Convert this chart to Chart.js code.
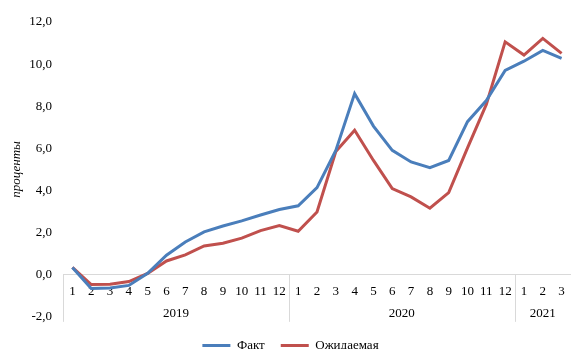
<!DOCTYPE html>
<html>
<head>
<meta charset="utf-8">
<script src="https://cdn.jsdelivr.net/npm/chart.js@4"></script>
<style>
  html, body { margin: 0; padding: 0; background: #fff; }
  #wrap { width: 571px; height: 349px; }
</style>
</head>
<body>
<div id="wrap"><canvas id="lienzo"></canvas></div>
<script>
// months on the lower axis, years underneath
const months = ["1","2","3","4","5","6","7","8","9","10","11","12",
                "1","2","3","4","5","6","7","8","9","10","11","12",
                "1","2","3"]
const years = ["2019", "2020", "2021"]
const yearCounts = [12, 12, 3]

const fakt = [0.35, -0.65, -0.62, -0.5, 0.07, 0.93, 1.56, 2.04, 2.32, 2.56, 2.84, 3.1,
              3.28, 4.14, 5.9, 8.6, 7.06, 5.91, 5.36, 5.09, 5.43, 7.27, 8.27, 9.7,
              10.14, 10.65, 10.27]
const ozhid = [0.35, -0.46, -0.45, -0.32, 0.07, 0.66, 0.95, 1.37, 1.5, 1.74, 2.1, 2.34,
               2.07, 2.98, 5.85, 6.86, 5.43, 4.09, 3.7, 3.16, 3.9, 6.03, 8.09, 11.06,
               10.43, 11.22, 10.51]

const serif = "'Liberation Serif', 'Times New Roman', serif"

// separators and year labels under the month axis
const yearsPlugin = {
    id: "years",
    afterDraw(chart) {
        const ctx = chart.ctx
        const x = chart.scales.x
        const y = chart.scales.y
        const y0 = y.getPixelForValue(0)
        const half = x.width / months.length / 2
        ctx.save()
        ctx.strokeStyle = "#d9d9d9"
        ctx.lineWidth = 1
        ctx.fillStyle = "#000"
        ctx.font = "13px " + serif
        ctx.textAlign = "center"
        ctx.textBaseline = "middle"
        let start = 0
        for (let i = 0; i < years.length; i++) {
            const left = x.getPixelForValue(start) - half
            const right = x.getPixelForValue(start + yearCounts[i] - 1) + half
            ctx.beginPath()
            ctx.moveTo(Math.round(left) + 0.5, y0)
            ctx.lineTo(Math.round(left) + 0.5, y0 + 47)
            ctx.stroke()
            ctx.fillText(years[i], (left + right) / 2, y0 + 39)
            start += yearCounts[i]
        }
        ctx.restore()
    }
}

new Chart(document.getElementById("lienzo"), {
    type: "line",
    data: {
        labels: months,
        datasets: [
            {
                label: "Факт",
                data: fakt,
                borderColor: "#4a7ebb",
                backgroundColor: "#4a7ebb",
                borderWidth: 3,
                pointRadius: 0,
                tension: 0
            },
            {
                label: "Ожидаемая",
                data: ozhid,
                borderColor: "#c0504d",
                backgroundColor: "#c0504d",
                borderWidth: 3,
                pointRadius: 0,
                tension: 0
            }
        ]
    },
    options: {
        responsive: true,
        maintainAspectRatio: false,
        animation: false,
        layout: { padding: { top: 22, right: -5, left: 5, bottom: -13 } },
        plugins: {
            tooltip: { enabled: false },
            legend: {
                position: "bottom",
                // empty title only adds a little room above the items
                title: { display: true, text: "", padding: 0, font: { size: 5 } },
                labels: {
                    usePointStyle: true,
                    pointStyle: "line",
                    pointStyleWidth: 28,
                    color: "#000",
                    padding: 16,
                    font: { family: serif, size: 13 }
                }
            }
        },
        scales: {
            x: {
                type: "category",
                position: { y: 0 },
                offset: true,
                afterFit: s => { s.paddingLeft = 0; s.paddingRight = 0 },
                grid: { display: false, drawTicks: false },
                border: { display: true, color: "#d9d9d9", width: 1 },
                ticks: {
                    autoSkip: false,
                    maxRotation: 0,
                    padding: 9,
                    color: "#000",
                    font: { family: serif, size: 13 }
                }
            },
            y: {
                min: -2,
                max: 12,
                afterFit: s => { s.width = 58 },
                grid: { display: false, drawTicks: false },
                border: { display: false },
                ticks: {
                    stepSize: 2,
                    padding: 11,
                    color: "#000",
                    font: { family: serif, size: 13 },
                    callback: v => v.toFixed(1).replace(".", ",")
                },
                title: {
                    display: true,
                    text: "проценты",
                    color: "#000",
                    padding: 4,
                    font: { family: serif, size: 13, style: "italic" }
                }
            }
        }
    },
    plugins: [yearsPlugin]
})
</script>
</body>
</html>
